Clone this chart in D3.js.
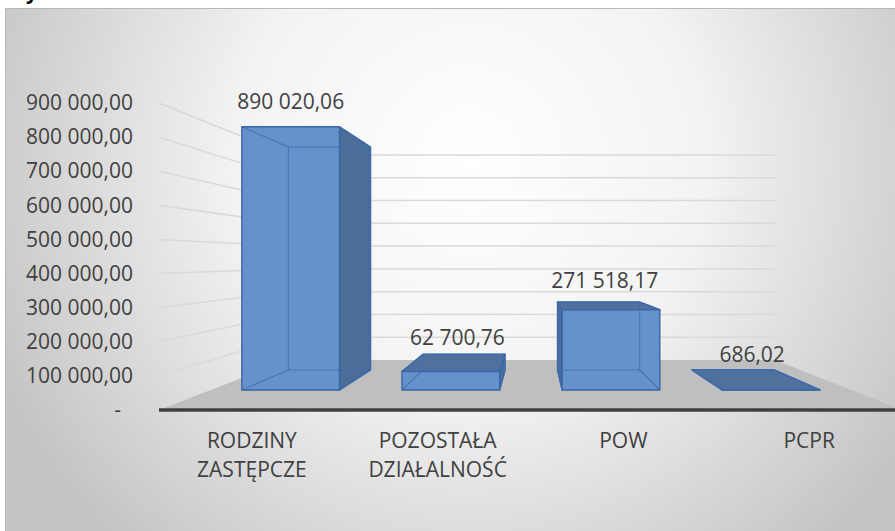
<!DOCTYPE html>
<html>
<head>
<meta charset="utf-8">
<script src="https://cdn.jsdelivr.net/npm/d3@7"></script>
<style>
  body { margin: 0; background: #fff; }
  text { font-family: 'Open Sans', sans-serif; }
</style>
</head>
<body>
<div id="chart"></div>
<script>
const categories = ['RODZINY ZASTĘPCZE', 'POZOSTAŁA DZIAŁALNOŚĆ', 'POW', 'PCPR']
const values = [890020.06, 62700.76, 271518.17, 686.02]
const yTicks = [0, 100000, 200000, 300000, 400000, 500000, 600000, 700000, 800000, 900000]

const width = 895
const height = 531

const pl = d3.formatLocale({ decimal: ',', thousands: ' ', grouping: [3], currency: ['', ''] })
const fmt = pl.format(',.2f')

const svg = d3.select('#chart')
  .append('svg')
  .attr('width', width)
  .attr('height', height)

// background glow like the excel chart area
const defs = svg.append('defs')
const grad = defs.append('radialGradient')
  .attr('id', 'bg')
  .attr('gradientUnits', 'userSpaceOnUse')
  .attr('cx', 470).attr('cy', 160).attr('r', 520)
grad.append('stop').attr('offset', 0).attr('stop-color', '#ffffff')
grad.append('stop').attr('offset', 0.45).attr('stop-color', '#f3f3f3')
grad.append('stop').attr('offset', 1).attr('stop-color', '#c4c4c4')

svg.append('rect').attr('width', width).attr('height', height).attr('fill', '#fff')
svg.append('rect')
  .attr('x', 5.5).attr('y', 8.5)
  .attr('width', width).attr('height', height)
  .attr('fill', 'url(#bg)')
  .attr('stroke', '#b8b8b8')

// bit of the heading above, cut off
svg.append('text')
  .attr('x', 26).attr('y', -1)
  .attr('font-size', 20).attr('font-weight', 'bold')
  .attr('fill', '#000')
  .text('y')

// front plane and back plane of the 3d box
const yFront = d3.scaleLinear().domain([0, 900000]).range([410, 103])
const yBack = d3.scaleLinear().domain([0, 900000]).range([360, 155])
const xFront = d3.scaleLinear().domain([0, 1]).range([159, 902])
const xBack = d3.scaleLinear().domain([0, 1]).range([288, 775])

function proj (u, v, z) {
  return [
    xFront(u) + (xBack(u) - xFront(u)) * z,
    yFront(v) + (yBack(v) - yFront(v)) * z
  ]
}

const band = d3.scaleBand()
  .domain(categories)
  .range([0, 1])
  .paddingInner(0.39)
  .paddingOuter(0.195)

const z0 = 0.4
const z1 = 0.8

// gridlines on side wall and back wall
const grid = svg.append('g')
  .attr('stroke', '#d9d9d9')
  .attr('stroke-width', 1.5)
  .attr('fill', 'none')

grid.selectAll('path')
  .data(yTicks.filter(d => d > 0))
  .enter()
  .append('path')
  .attr('d', d => d3.line()([proj(0, d, 0), proj(0, d, 1), proj(1, d, 1)]))

// floor
svg.append('path')
  .attr('d', d3.line()([proj(0, 0, 0), proj(1, 0, 0), proj(1, 0, 1), proj(0, 0, 1)]) + 'Z')
  .attr('fill', '#bfbfbf')

svg.append('line')
  .attr('x1', xFront(0)).attr('x2', width)
  .attr('y1', yFront(0)).attr('y2', yFront(0))
  .attr('stroke', '#404040')
  .attr('stroke-width', 3.5)

// y axis labels
const yAxis = svg.append('g')
  .attr('transform', 'translate(133,0)')
  .call(d3.axisLeft(yFront)
    .tickValues(yTicks)
    .tickSize(0)
    .tickPadding(0)
    .tickFormat(d => d === 0 ? '-' : fmt(d)))

yAxis.select('.domain').remove()
yAxis.selectAll('text')
  .attr('font-family', 'Open Sans')
  .attr('font-size', 21)
  .attr('fill', '#404040')
  .attr('dx', d => d === 0 ? -12 : 0)

// bars
const bars = svg.append('g')

categories.forEach((cat, i) => {
  const u0 = band(cat)
  const u1 = u0 + band.bandwidth()
  const v = values[i]

  const p = {
    flb: proj(u0, 0, z0), frb: proj(u1, 0, z0), frt: proj(u1, v, z0), flt: proj(u0, v, z0),
    blb: proj(u0, 0, z1), brb: proj(u1, 0, z1), brt: proj(u1, v, z1), blt: proj(u0, v, z1)
  }

  const g = bars.append('g')
  const face = (pts, fill) => g.append('path')
    .attr('d', d3.line()(pts) + 'Z')
    .attr('fill', fill)
    .attr('stroke', '#3a65a3')
    .attr('stroke-width', 1.4)
    .attr('stroke-linejoin', 'round')

  // sides facing the viewer
  if (p.brb[0] > p.frb[0]) face([p.frb, p.brb, p.brt, p.frt], '#4c6d97')
  if (p.blb[0] < p.flb[0]) face([p.flb, p.blb, p.blt, p.flt], '#4c6d97')
  if (p.blt[1] < p.flt[1]) face([p.flt, p.frt, p.brt, p.blt], '#50719d')
  face([p.flb, p.frb, p.frt, p.flt], '#6692cc')

  // hidden edges, seen through the glassy bar
  const edges = [
    [p.blb, p.brb], [p.brb, p.brt], [p.brt, p.blt], [p.blt, p.blb],
    [p.flb, p.blb], [p.frb, p.brb], [p.flt, p.blt], [p.frt, p.brt]
  ]
  g.selectAll('line')
    .data(edges)
    .enter()
    .append('line')
    .attr('x1', d => d[0][0]).attr('y1', d => d[0][1])
    .attr('x2', d => d[1][0]).attr('y2', d => d[1][1])
    .attr('stroke', '#3f6db0')
    .attr('stroke-opacity', 0.75)
    .attr('stroke-width', 1.2)

  // value label above the visible top
  const topHidden = p.blt[1] > p.flt[1]
  const anchor = topHidden ? proj((u0 + u1) / 2, v, z0) : proj((u0 + u1) / 2, v, (z0 + z1) / 2)
  svg.append('text')
    .attr('x', anchor[0])
    .attr('y', anchor[1] - 18)
    .attr('text-anchor', 'middle')
    .attr('font-size', 21)
    .attr('fill', '#404040')
    .text(fmt(v))
})

// category labels
const xl = svg.append('g')
  .attr('font-size', 21)
  .attr('fill', '#404040')
  .attr('text-anchor', 'middle')

categories.forEach(cat => {
  const x = xFront(band(cat) + band.bandwidth() / 2)
  const t = xl.append('text').attr('x', x).attr('y', 448)
  cat.split(' ').forEach((w, j) => {
    t.append('tspan').attr('x', x).attr('dy', j === 0 ? 0 : 29).text(w)
  })
})
</script>
</body>
</html>
